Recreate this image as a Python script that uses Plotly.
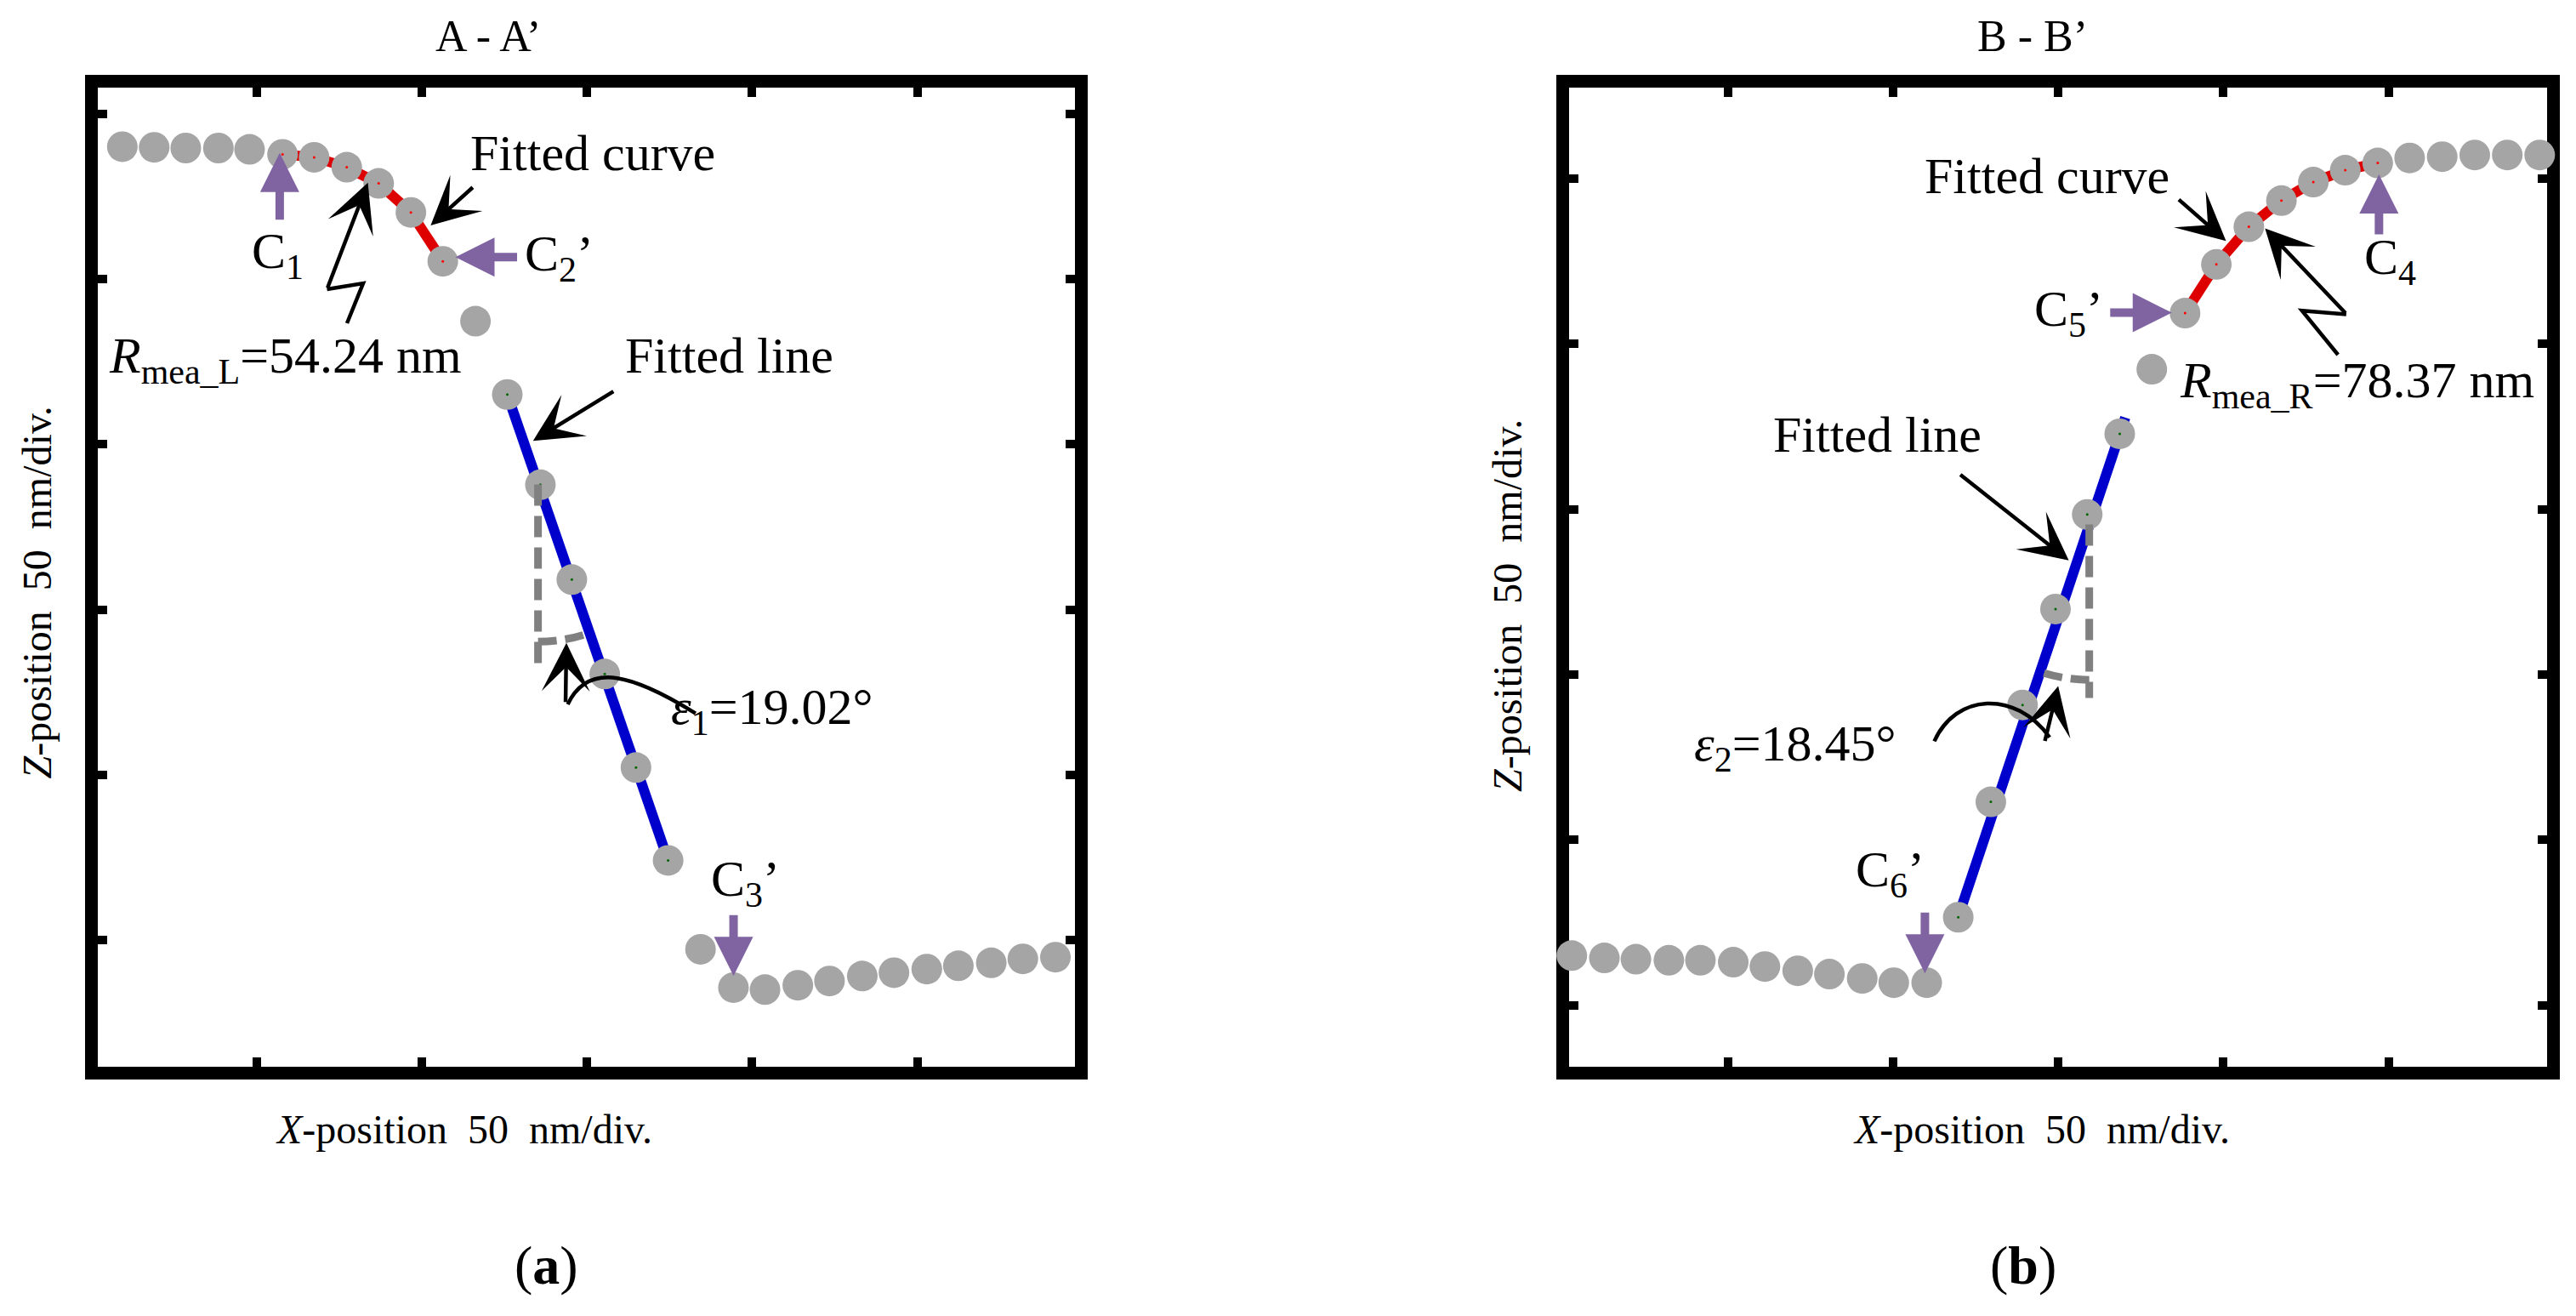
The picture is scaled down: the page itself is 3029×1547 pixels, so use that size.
import math
import plotly.graph_objects as go

# ---------------- data (nm, 50 nm per division) ----------------
# (a) A - A'  measured profile
xa = [9.35, 19.0, 28.56, 38.45, 47.87, 57.86, 67.42, 77.3, 86.96, 96.72,
      106.38, 116.27, 125.9, 135.92, 145.44, 155.41, 164.86, 174.59, 184.4, 194.37,
      203.92, 213.86, 223.44, 233.38, 242.96, 252.9, 262.46, 272.42, 281.98, 291.84]
za = [240.1, 239.9, 239.7, 239.7, 239.3, 237.8, 236.9, 233.9, 229.0, 220.2,
      205.4, 187.3, 165.1, 137.8, 109.1, 80.5, 52.2, 24.1, -2.8, -14.4,
      -15.0, -13.7, -12.4, -10.9, -9.9, -8.8, -7.8, -6.9, -5.7, -5.2]
curve_a = (5, 11)          # C1 .. C2'
line_pts_a = (12, 18)
fit_line_ax = [125.9, 174.6]
fit_line_az = [165.1, 24.1]
eps_a = 19.02

# (b) B - B'  measured profile
xb = [2.76, 12.62, 22.17, 32.14, 41.69, 51.63, 61.21, 71.15, 80.73, 90.67,
      100.22, 110.19, 119.74, 129.61, 139.21, 149.18, 158.78, 168.62, 178.33, 188.4,
      197.87, 207.71, 217.57, 227.23, 236.89, 246.72, 256.38, 266.24, 276.1, 285.94, 295.75]
zb = [15.0, 14.3, 13.9, 13.6, 13.6, 13.0, 11.7, 10.4, 9.4, 8.1,
      6.8, 6.8, 26.6, 61.5, 90.8, 119.8, 148.4, 172.8, 192.3, 209.3,
      224.0, 235.4, 243.3, 248.9, 252.5, 254.7, 256.2, 256.6, 257.1, 257.1, 257.1]
curve_b = (19, 26)         # C5' .. C4
line_pts_b = (12, 18)
fit_line_bx = [119.7, 170.3]
fit_line_bz = [26.6, 177.7]
eps_b = 18.45

x_ticks = [50, 100, 150, 200, 250]
z_ticks = [0, 50, 100, 150, 200, 250]

FONT = "Liberation Serif"
GREY = "#A5A5A5"
RED = "#DE0000"
BLUE = "#0000CD"
PURPLE = "#8064A2"
DASH = "#808080"

# page is 3029x1547; the html body keeps an 8px margin
W, H = 3029, 1547
OFF = 8
FW, FH = W - 2 * OFF, H - 2 * OFF


def px(x):
    return (x - OFF) / FW


def py(y):
    return 1 - (y - OFF) / FH


fig = go.Figure()


def add_profile(x, z, crv, lin, lx, lz, xr, yr):
    """Fitted curve, fitted line, measured dots and their centre marks."""
    fig.add_trace(go.Scatter(x=x[crv[0]:crv[1]], y=z[crv[0]:crv[1]], mode="lines",
                             line=dict(color=RED, width=12), xaxis=xr, yaxis=yr))
    fig.add_trace(go.Scatter(x=lx, y=lz, mode="lines",
                             line=dict(color=BLUE, width=12), xaxis=xr, yaxis=yr))
    fig.add_trace(go.Scatter(x=x, y=z, mode="markers", cliponaxis=False,
                             marker=dict(color=GREY, size=36, line=dict(width=0)),
                             xaxis=xr, yaxis=yr))
    fig.add_trace(go.Scatter(x=x[crv[0]:crv[1]], y=z[crv[0]:crv[1]], mode="markers",
                             marker=dict(color="red", size=3), xaxis=xr, yaxis=yr))
    fig.add_trace(go.Scatter(x=x[lin[0]:lin[1]], y=z[lin[0]:lin[1]], mode="markers",
                             marker=dict(color="#006400", size=3), xaxis=xr, yaxis=yr))


add_profile(xa, za, curve_a, line_pts_a, fit_line_ax, fit_line_az, "x", "y")
add_profile(xb, zb, curve_b, line_pts_b, fit_line_bx, fit_line_bz, "x2", "y2")


def axis(domain, rng, ticks):
    return dict(domain=domain, range=rng, tickvals=ticks, showticklabels=False,
                ticks="inside", ticklen=11, tickwidth=10, tickcolor="black",
                showline=True, linewidth=15, linecolor="black", mirror="ticks",
                showgrid=False, zeroline=False, layer="below traces", fixedrange=True)


fig.update_layout(
    width=FW, height=FH, margin=dict(l=0, r=0, t=0, b=0),
    paper_bgcolor="white", plot_bgcolor="white", showlegend=False,
    font=dict(family=FONT, color="black", size=60),
    xaxis=axis([px(115), px(1264)], [1.93, 297.76], x_ticks),
    yaxis=axis([py(1254), py(103)], [-38.36, 257.98], z_ticks),
    xaxis2=axis([px(1845), px(2995)], [1.93, 297.99], x_ticks),
    yaxis2=axis([py(1254), py(103)], [-18.61, 277.47], z_ticks),
)
fig.layout.yaxis2.anchor = "x2"
fig.layout.xaxis2.anchor = "y2"

ann = []
shapes = []


def label(xr, yr, x, y, text, size=60):
    ann.append(dict(xref=xr, yref=yr, x=x, y=y, text=text, showarrow=False,
                    font=dict(size=size, family=FONT), xanchor="center", yanchor="middle"))


def arrow(xr, yr, x, y, ax, ay, color="black", width=4.5, head=3, size=2.1):
    ann.append(dict(xref=xr, yref=yr, x=x, y=y, ax=ax, ay=ay, text="", showarrow=True,
                    arrowcolor=color, arrowwidth=width, arrowhead=head, arrowsize=size,
                    standoff=0, startstandoff=0))


def c_arrow(xr, yr, x, y, ax, ay):
    arrow(xr, yr, x, y, ax, ay, color=PURPLE, width=10, head=2, size=0.92)


def angle_mark(xr, yr, apex, drop, r, eps, side):
    """Dashed vertical reference line and the arc of the inclination angle."""
    ax_, az_ = apex
    shapes.append(dict(type="line", xref=xr, yref=yr, x0=ax_, y0=az_, x1=ax_, y1=az_ - drop,
                       line=dict(color=DASH, width=9, dash="25px,12px"), layer="above"))
    t = math.radians(eps)
    x1 = ax_ + side * r * math.sin(t)
    z1 = az_ - r * math.cos(t)
    cx = ax_ + side * r * math.tan(t / 2)
    shapes.append(dict(type="path", xref=xr, yref=yr, layer="above",
                       path=f"M {ax_},{az_ - r} Q {cx},{az_ - r} {x1},{z1}",
                       line=dict(color=DASH, width=9, dash="22px,10px")))


def leader(xr, yr, pts, curve=False):
    if curve:
        p = pts
        path = f"M {p[0][0]},{p[0][1]} C {p[1][0]},{p[1][1]} {p[2][0]},{p[2][1]} {p[3][0]},{p[3][1]}"
    else:
        path = "M " + " L ".join(f"{a},{b}" for a, b in pts)
    shapes.append(dict(type="path", xref=xr, yref=yr, path=path, layer="above",
                       line=dict(color="black", width=4.5)))


# ---------------- panel (a) ----------------
label("x", "y", 151.8, 238.2, "Fitted curve")
arrow("x", "y", 102.7, 216.3, 51, -46)
label("x", "y", 56.3, 207.5, "C<sub>1</sub>")
c_arrow("x", "y", 57.0, 238.2, 0, 80)
label("x", "y", 141.7, 206.7, "C<sub>2</sub>’")
c_arrow("x", "y", 110.2, 206.7, 74, 0)
label("x", "y", 58.7, 175.6, "<i>R</i><sub>mea_L</sub>=54.24 nm")
leader("x", "y", [(77.37, 186.66), (82.26, 198.76), (71.32, 196.96)])
arrow("x", "y", 83.7, 229.2, -48, 125)
label("x", "y", 193.0, 176.9, "Fitted line")
arrow("x", "y", 133.7, 151.1, 96, -59)
angle_mark("x", "y", (135.2, 137.9), 55.5, 47.6, eps_a, 1)
label("x", "y", 206.1, 69.5, "<i>ε</i><sub>1</sub>=19.02°")
leader("x", "y", [(182.9, 68.6), (164.8, 79.8), (150.6, 84.9), (144.2, 71.3)], curve=True)
arrow("x", "y", 143.8, 89.9, -1, 71)
label("x", "y", 197.9, 17.5, "C<sub>3</sub>’")
c_arrow("x", "y", 194.4, -10.9, 0, -73)

# ---------------- panel (b) ----------------
label("x2", "y2", 146.5, 250.7, "Fitted curve")
arrow("x2", "y2", 200.8, 231.1, -57, -50)
label("x2", "y2", 153.3, 209.5, "C<sub>5</sub>’")
c_arrow("x2", "y2", 184.4, 209.4, -74, 0)
label("x2", "y2", 250.4, 225.0, "C<sub>4</sub>")
c_arrow("x2", "y2", 247.1, 251.2, 0, 72)
label("x2", "y2", 240.5, 187.7, "<i>R</i><sub>mea_R</sub>=78.37 nm")
leader("x2", "y2", [(234.7, 196.7), (223.8, 210.0), (237.2, 208.9)])
arrow("x2", "y2", 212.6, 234.9, 96, 101)
label("x2", "y2", 95.2, 172.4, "Fitted line")
arrow("x2", "y2", 153.2, 134.5, -129, -102)
angle_mark("x2", "y2", (159.4, 145.4), 52.5, 47.0, eps_b, -1)
label("x2", "y2", 70.4, 77.9, "<i>ε</i><sub>2</sub>=18.45°")
leader("x2", "y2", [(112.5, 79.8), (118.9, 94.2), (136.9, 95.5), (147.4, 81.0)], curve=True)
arrow("x2", "y2", 150.0, 96.5, -16, 66)
label("x2", "y2", 99.0, 39.8, "C<sub>6</sub>’")
c_arrow("x2", "y2", 109.65, 9.6, 0, -73)

# ---------------- titles, axis titles, panel labels ----------------
for x, y, t, ang, sz in [
    (574, 42.5, "A - A’", 0, 52),
    (2390, 42.5, "B - B’", 0, 52),
    (545, 1327, "<i>X</i>-position  50  nm/div.", 0, 48),
    (2400, 1327, "<i>X</i>-position  50  nm/div.", 0, 48),
    (42.5, 697, "<i>Z</i>-position  50  nm/div.", -90, 48),
    (1772, 712, "<i>Z</i>-position  50  nm/div.", -90, 48),
    (642, 1487, "(<b>a</b>)", 0, 64),
    (2379, 1487, "(<b>b</b>)", 0, 64),
]:
    ann.append(dict(xref="paper", yref="paper", x=px(x), y=py(y), text=t, showarrow=False,
                    textangle=ang, font=dict(size=sz, family=FONT),
                    xanchor="center", yanchor="middle"))

fig.update_layout(annotations=ann, shapes=shapes)
fig.write_html("out.html")
